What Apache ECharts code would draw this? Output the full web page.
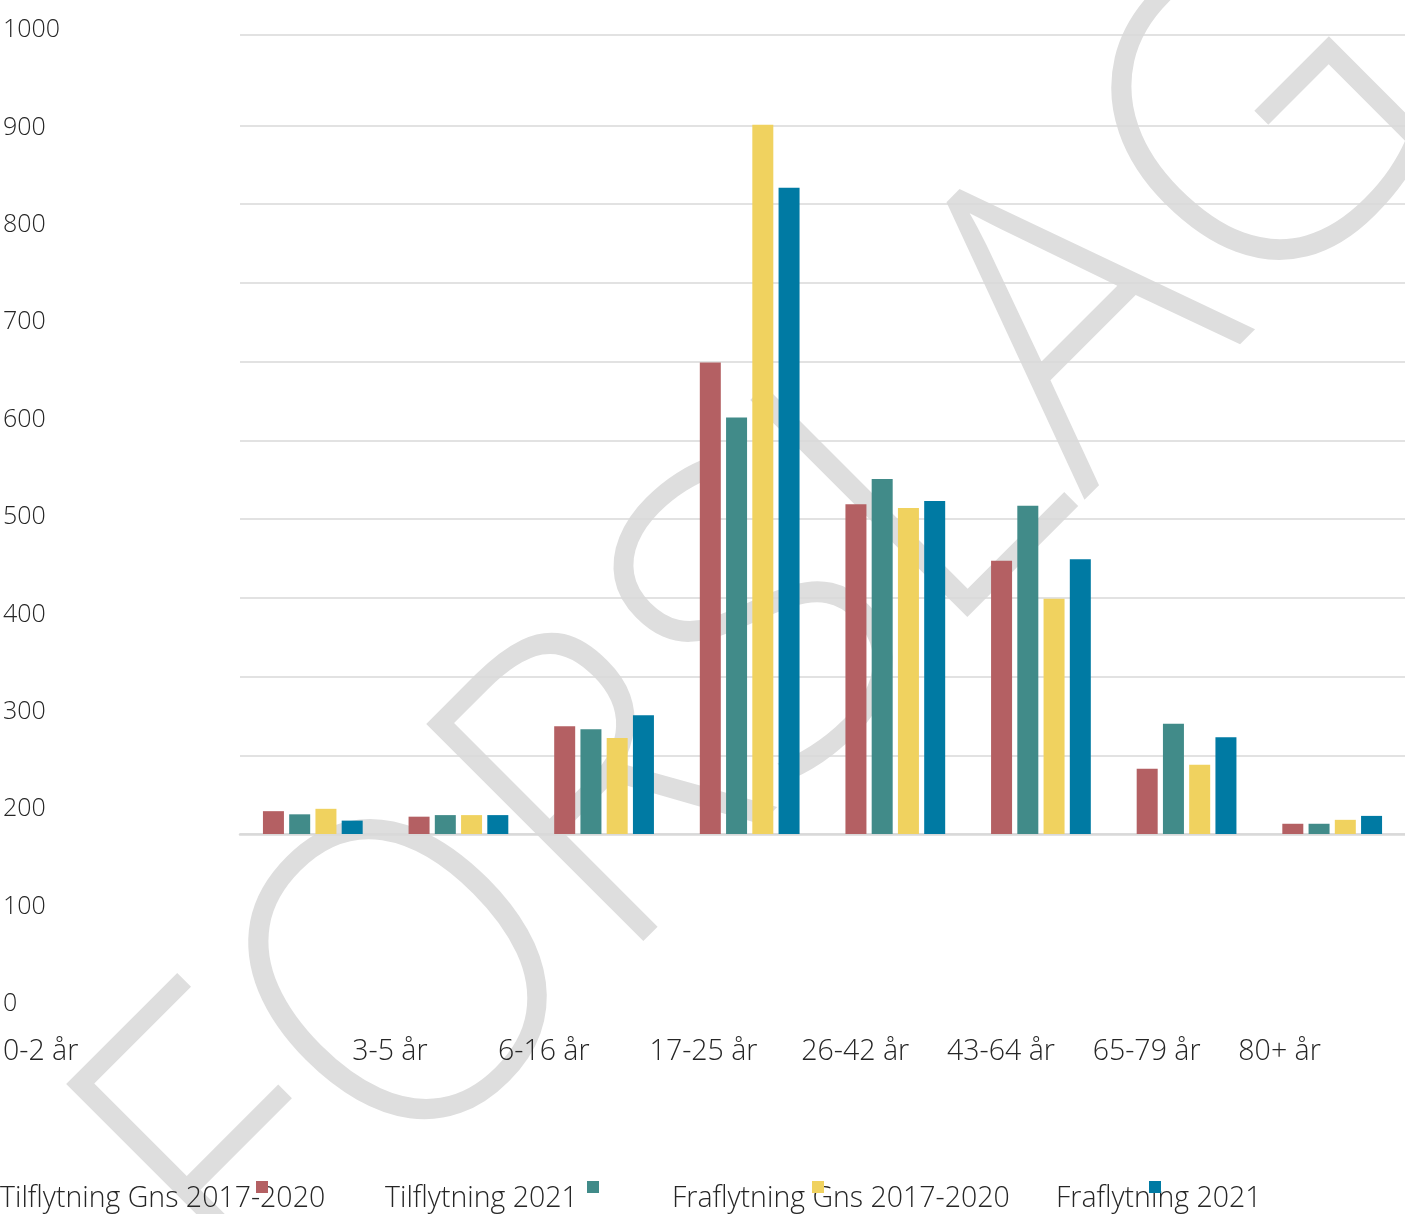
<!DOCTYPE html>
<html>
<head>
<meta charset="utf-8">
<script src="https://cdn.jsdelivr.net/npm/echarts@6/dist/echarts.min.js"></script>
<style>html,body{margin:0;padding:0;background:#fff}#c{width:1405px;height:1214px}</style>
</head>
<body>
<div id="c"></div>
<script>
const categories = ['0-2 år','3-5 år','6-16 år','17-25 år','26-42 år','43-64 år','65-79 år','80+ år'];
const seriesNames = ['Tilflytning Gns 2017-2020','Tilflytning 2021','Fraflytning Gns 2017-2020','Fraflytning 2021'];
const tilflytGns = [29, 22, 137, 599, 419, 347, 83, 13];
const tilflyt2021 = [25, 24, 133, 529, 451, 417, 140, 13];
const fraflytGns = [32, 24, 122, 901, 414, 299, 88, 18];
const fraflyt2021 = [17, 24, 151, 821, 423, 349, 123, 23];
const yTicks = [0,100,200,300,400,500,600,700,800,900,1000];

// layout (not data)
const colors = ['#b46063','#418b89','#f0d25f','#007aa3'];
const catLabelX = [0, 350, 496, 648, 800, 946, 1092, 1238];
const legendTextX = [0, 385, 672, 1056];
const legendIconX = [256, 587, 812, 1149];
const FONT = '"Open Sans", "Noto Sans", sans-serif';
const TXT = '#262626';

const chart = echarts.init(document.getElementById('c'), null, {renderer:'canvas'});

const gridColors = yTicks.map(v => v === 1000 ? 'rgba(0,0,0,0)' : '#d9d9d9');
gridColors.push('#d9d9d9');

const series = [tilflytGns, tilflyt2021, fraflytGns, fraflyt2021].map((d, i) => ({
  name: seriesNames[i], type: 'bar', data: d, xAxisIndex: 0, yAxisIndex: 0,
  barWidth: 21, barGap: '25%', itemStyle: {color: colors[i]}, z: 3
}));

const legends = [];
seriesNames.forEach((n, i) => {
  legends.push({data:[n], left: legendTextX[i] - 5, top: 1184, padding: 0, itemWidth: 0, itemHeight: 0, icon: 'rect', z: 5,
    textStyle: {fontFamily: FONT, fontSize: 28.5, fontWeight: 300, color: TXT}});
  legends.push({data:[n], left: legendIconX[i], top: 1181, padding: 0, itemWidth: 12, itemHeight: 12, icon: 'rect', z: 6,
    formatter: () => '', textStyle: {fontSize: 1}});
});

chart.setOption({
  animation: false,
  backgroundColor: '#fff',
  grid: [
    {left: 240, right: 0, top: 35, bottom: 380},
    {left: 0, right: 0, top: 30, bottom: 210}
  ],
  xAxis: [
    {type: 'category', gridIndex: 0, data: categories,
      axisLine: {lineStyle: {color: '#d9d9d9', width: 2.5}}, axisTick: {show: false}, axisLabel: {show: false}},
    {type: 'value', gridIndex: 1, min: 0, max: 1405,
      axisLine: {show: false}, axisTick: {show: false}, splitLine: {show: false},
      axisLabel: {customValues: catLabelX, align: 'left', verticalAlign: 'middle', margin: 48,
        formatter: v => categories[catLabelX.indexOf(v)] || '',
        fontFamily: FONT, fontSize: 28.5, fontWeight: 300, color: TXT}}
  ],
  yAxis: [
    {type: 'value', gridIndex: 0, min: 0, max: 1015, interval: 100,
      axisLine: {show: false}, axisTick: {show: false}, axisLabel: {show: false},
      splitLine: {lineStyle: {color: gridColors, width: 1.5}}},
    {type: 'value', gridIndex: 1, min: 0, max: 1000, interval: 100,
      axisLine: {show: false}, axisTick: {show: false}, splitLine: {show: false},
      axisLabel: {inside: true, margin: 0, align: 'left', fontFamily: FONT, fontSize: 25, fontWeight: 300, color: TXT,
        formatter: v => String(v)}}
  ],
  legend: legends,
  graphic: {
    elements: [{
      type: 'text', x: 168, y: 1243, rotation: Math.PI / 4, scaleX: 0.935, z: -10, silent: true,
      style: {text: 'FORSLAG', x: 0, y: 0, textAlign: 'left', textVerticalAlign: 'middle',
        font: '200 430px "Open Sans", "DejaVu Sans", sans-serif', fill: '#dedede'}
    }]
  },
  series: series
});
</script>
</body>
</html>
